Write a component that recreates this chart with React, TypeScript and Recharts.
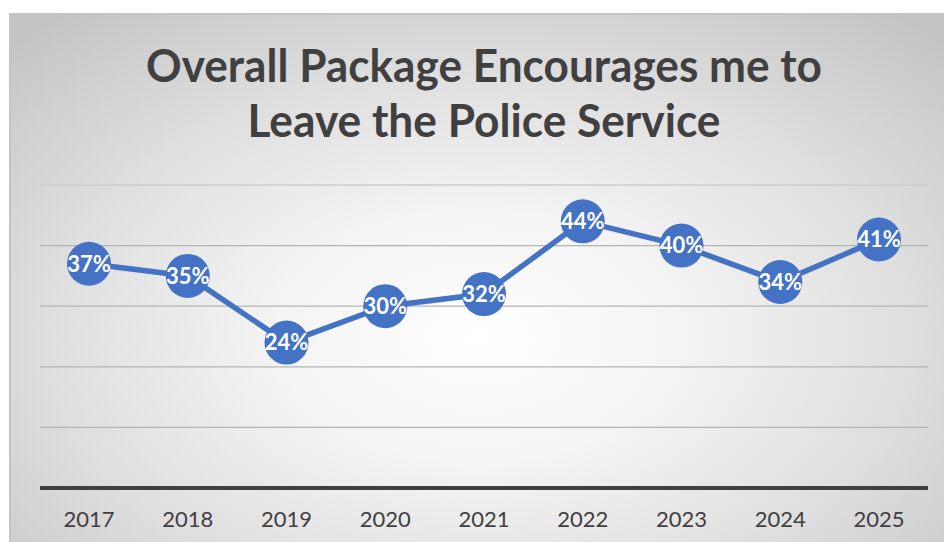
import React from 'react';
import { LineChart, Line, XAxis, YAxis, CartesianGrid, LabelList, ReferenceLine } from 'recharts';

const years = ['2017', '2018', '2019', '2020', '2021', '2022', '2023', '2024', '2025'];
const values = [37, 35, 24, 30, 32, 44, 40, 34, 41];
const yTicks = [0, 10, 20, 30, 40, 50];
const titleLines = ['Overall Package Encourages me to', 'Leave the Police Service'];

const data = years.map((y, i) => ({ year: y, value: values[i] }));

const FONT = 'Lato, "Open Sans", sans-serif';

export default function App() {
  return (
    <div style={{ position: 'absolute', left: 0, top: 0, width: 944, height: 542, overflow: 'hidden', background: '#ffffff' }}>
      <div
        style={{
          position: 'absolute',
          left: 9,
          top: 13,
          width: 960,
          height: 560,
          boxSizing: 'border-box',
          border: '2px solid #c4c4c4',
          background: 'radial-gradient(ellipse 70% 75% at 49% 58%, #ffffff 0%, #f4f4f4 30%, #dedede 65%, #c4c4c4 100%)',
        }}
      />
      <svg width={944} height={160} style={{ position: 'absolute', left: 0, top: 0 }}>
        <text x={484} y={82} textAnchor="middle" fontFamily={FONT} fontWeight={700} fontSize={46} fill="#404040" textLength={676} lengthAdjust="spacingAndGlyphs">
          {titleLines[0]}
        </text>
        <text x={484} y={137} textAnchor="middle" fontFamily={FONT} fontWeight={700} fontSize={46} fill="#404040" textLength={473} lengthAdjust="spacingAndGlyphs">
          {titleLines[1]}
        </text>
      </svg>
      <div style={{ position: 'absolute', left: 0, top: 0 }}>
        <LineChart width={944} height={542} data={data} margin={{ top: 185, right: 16, bottom: 24, left: 40 }}>
          <CartesianGrid vertical={false} stroke="#b4b4b4" strokeWidth={1.2} />
          <ReferenceLine y={50} stroke="#dadada" strokeWidth={1.2} />
          <XAxis
            dataKey="year"
            height={30}
            padding={{ left: 49, right: 49 }}
            tickLine={false}
            axisLine={{ stroke: '#404040', strokeWidth: 4 }}
            tickMargin={17}
            tick={{ fill: '#404040', fontSize: 22, fontFamily: FONT }}
            interval={0}
          />
          <YAxis hide domain={[0, 50]} ticks={yTicks} />
          <Line
            type="linear"
            dataKey="value"
            stroke="#4472C4"
            strokeWidth={5.5}
            dot={{ r: 22, fill: '#4472C4', stroke: 'none' }}
            activeDot={false}
            isAnimationActive={false}
          >
            <LabelList
              dataKey="value"
              position="center"
              formatter={(v: number) => `${v}%`}
              fill="#ffffff"
              fontSize={22}
              fontWeight={700}
              fontFamily={FONT}
            />
          </Line>
        </LineChart>
      </div>
    </div>
  );
}
